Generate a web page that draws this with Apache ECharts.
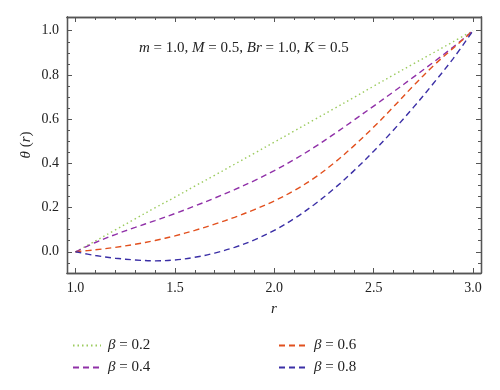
<!DOCTYPE html>
<html>
<head>
<meta charset="utf-8">
<script src="https://cdn.jsdelivr.net/npm/echarts@6/dist/echarts.min.js"></script>
<style>html,body{margin:0;padding:0;background:#fff}#c{width:500px;height:390px}</style>
</head>
<body>
<div id="c"></div>
<script>
// ---- data ----
const rValues = [1.0,1.1,1.2,1.3,1.4,1.5,1.6,1.7,1.8,1.9,2.0,2.1,2.2,2.3,2.4,2.5,2.6,2.7,2.8,2.9,3.0];
const beta02 = [0,0.049,0.099,0.149,0.199,0.247,0.297,0.346,0.396,0.446,0.496,0.546,0.597,0.647,0.698,0.749,0.800,0.850,0.900,0.950,1.0];
const beta04 = [0,0.042,0.078,0.110,0.141,0.173,0.207,0.243,0.281,0.322,0.367,0.417,0.472,0.532,0.595,0.659,0.724,0.790,0.857,0.926,1.0];
const beta06 = [0,0.009,0.020,0.034,0.051,0.072,0.097,0.125,0.156,0.191,0.230,0.277,0.333,0.401,0.479,0.564,0.656,0.751,0.841,0.921,1.0];
const beta08 = [0,-0.017,-0.029,-0.037,-0.041,-0.037,-0.025,-0.006,0.020,0.054,0.097,0.150,0.213,0.285,0.366,0.455,0.551,0.653,0.761,0.874,1.0];
const seriesNames = ['β = 0.2','β = 0.4','β = 0.6','β = 0.8'];
const xMajorTicks = [1.0,1.5,2.0,2.5,3.0];
const xMinorTicks = [1.1,1.2,1.3,1.4,1.6,1.7,1.8,1.9,2.1,2.2,2.3,2.4,2.6,2.7,2.8,2.9];
const yMajorTicks = [0.0,0.2,0.4,0.6,0.8,1.0];
const yMinorTicks = [-0.05,0.05,0.1,0.15,0.25,0.3,0.35,0.45,0.5,0.55,0.65,0.7,0.75,0.85,0.9,0.95];
const xLabelText = 'r';
const yLabelText = '{i|θ} ({i|r})';
const annotation = '{i|m} = 1.0, {i|M} = 0.5, {i|Br} = 1.0, {i|K} = 0.5';

const xMin = 0.957, xMax = 3.04, yMin = -0.096, yMax = 1.062;
const FONT = '"Liberation Serif","DejaVu Serif",serif';
const AX = '#555';

function xAxisDef(pos, ticks, len, withLabels) {
  return {
    type: 'value', gridIndex: 0, position: pos, offset: 0, min: xMin, max: xMax,
    axisLine: {show: true, onZero: false, lineStyle: {color: AX, width: 1.3}},
    axisTick: {show: true, inside: true, length: len, customValues: ticks, lineStyle: {color: AX, width: 1}},
    axisLabel: {show: withLabels, customValues: xMajorTicks, margin: 8, color: '#222',
      fontFamily: FONT, fontSize: 14, formatter: v => Number(v).toFixed(1)},
    splitLine: {show: false}
  };
}
function yAxisDef(pos, ticks, len, withLabels) {
  return {
    type: 'value', gridIndex: 0, position: pos, offset: 0, min: yMin, max: yMax,
    axisLine: {show: true, onZero: false, lineStyle: {color: AX, width: 1.3}},
    axisTick: {show: true, inside: true, length: len, customValues: ticks, lineStyle: {color: AX, width: 1}},
    axisLabel: {show: withLabels, customValues: yMajorTicks, margin: 8, color: '#222',
      fontFamily: FONT, fontSize: 14, formatter: v => Number(v).toFixed(1)},
    splitLine: {show: false}
  };
}

const colors = ['#9ccb5e', '#9030a8', '#e2501e', '#3b2fa6'];
const dashes = [[1.5, 3], [6, 4], [6, 4], [6, 4]];
const allData = [beta02, beta04, beta06, beta08];

const legendCommon = {
  orient: 'vertical', top: 333, itemWidth: 28, itemHeight: 14, itemGap: 7,
  itemStyle: {opacity: 0, borderWidth: 0},
  textStyle: {fontFamily: FONT, fontSize: 15, color: '#222', padding: [0, 0, 0, 2],
    rich: {i: {fontFamily: FONT, fontStyle: 'italic', fontSize: 15, color: '#222'}}},
  formatter: n => '{i|β} = ' + n.split('= ')[1]
};

const chart = echarts.init(document.getElementById('c'), null, {renderer: 'canvas'});
chart.setOption({
  animation: false,
  backgroundColor: '#fff',
  grid: {left: 67, top: 17, right: 19, bottom: 117, containLabel: false},
  xAxis: [
    xAxisDef('bottom', xMajorTicks, 5, true),
    xAxisDef('bottom', xMinorTicks, 3, false),
    xAxisDef('top', xMajorTicks, 5, false),
    xAxisDef('top', xMinorTicks, 3, false)
  ],
  yAxis: [
    yAxisDef('left', yMajorTicks, 5, true),
    yAxisDef('left', yMinorTicks, 3, false),
    yAxisDef('right', yMajorTicks, 5, false),
    yAxisDef('right', yMinorTicks, 3, false)
  ],
  legend: [
    Object.assign({data: [seriesNames[0], seriesNames[1]], left: 67}, legendCommon),
    Object.assign({data: [seriesNames[2], seriesNames[3]], left: 273}, legendCommon)
  ],
  series: allData.map((d, k) => ({
    name: seriesNames[k], type: 'line', xAxisIndex: 0, yAxisIndex: 0,
    data: rValues.map((r, i) => [r, d[i]]),
    smooth: 0.35, showSymbol: false, symbol: 'none',
    lineStyle: {color: colors[k], width: 1.4, type: dashes[k]},
    itemStyle: {color: colors[k]}
  })),
  graphic: [
    {type: 'text', left: 139, top: 41,
     style: {text: annotation, fontFamily: FONT, fontSize: 15, fill: '#222',
       rich: {i: {fontFamily: FONT, fontStyle: 'italic', fontSize: 15, fill: '#222'}}}},
    {type: 'text', x: 26, y: 145, rotation: Math.PI / 2,
     style: {text: yLabelText, fontFamily: FONT, fontSize: 15, fill: '#222', align: 'center', verticalAlign: 'middle',
       rich: {i: {fontFamily: FONT, fontStyle: 'italic', fontSize: 15, fill: '#222'}}}},
    {type: 'text', x: 274, y: 309,
     style: {text: xLabelText, fontFamily: FONT, fontStyle: 'italic', fontSize: 15, fill: '#222', align: 'center', verticalAlign: 'middle'}}
  ]
});
</script>
</body>
</html>
